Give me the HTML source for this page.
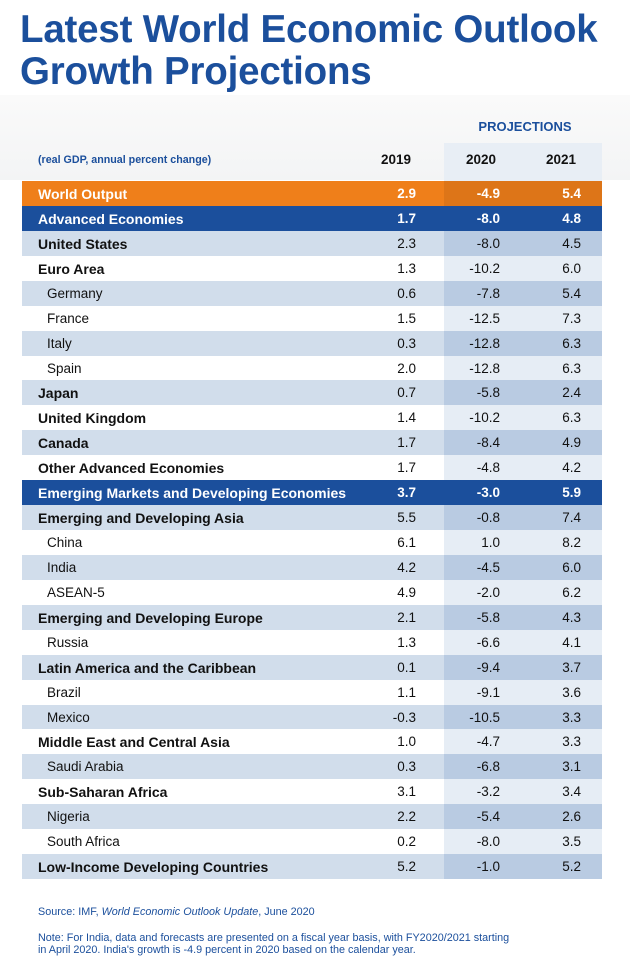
<!DOCTYPE html>
<html><head><meta charset="utf-8">
<style>
body{margin:0;width:630px;height:963px;background:#fff;font-family:"Liberation Sans",sans-serif;position:relative;overflow:hidden}
#title{position:absolute;left:20px;top:9px;margin:0;font-size:38.5px;line-height:42px;font-weight:bold;color:#1b4f9c;letter-spacing:-0.2px}
#bg{position:absolute;left:0;top:95px;width:630px;height:85px;background:linear-gradient(#fafafa,#f3f4f5)}
.proj-band{position:absolute;left:444px;top:143px;width:158px;height:38px;background:#e8eef5}
#proj{position:absolute;left:444px;top:119px;width:162px;text-align:center;font-size:13px;color:#1b4f9c;font-weight:bold}
.hdr{position:absolute;top:152px;font-size:13.5px;font-weight:bold;color:#111}
#sub{position:absolute;left:38px;top:154px;font-size:10.7px;font-weight:bold;color:#1b4f9c}
.row{position:absolute;left:22px;width:580px;height:25px;font-size:13.5px;color:#111}
.row span{position:absolute;top:5px}
.pb{position:absolute;left:422px;top:0;width:158px;height:25px}
.foot{position:absolute;left:38px;font-size:10.8px;color:#1b4f9c;line-height:11.5px}
</style></head><body>
<div id="bg"></div>
<h1 id="title">Latest World Economic Outlook<br>Growth Projections</h1>
<div class="proj-band"></div>
<div id="proj">PROJECTIONS</div>
<div id="sub">(real GDP, annual percent change)</div>
<div class="hdr" style="left:381px">2019</div>
<div class="hdr" style="left:466px">2020</div>
<div class="hdr" style="left:546px">2021</div>
<div id="table"></div>
<div class="foot" style="top:907px">Source: IMF, <i>World Economic Outlook Update</i>, June 2020</div>
<div class="foot" style="top:933px">Note: For India, data and forecasts are presented on a fiscal year basis, with FY2020/2021 starting<br>in April 2020. India's growth is -4.9 percent in 2020 based on the calendar year.</div>
<script>
const countries=["World Output","Advanced Economies","United States","Euro Area","Germany","France","Italy","Spain","Japan","United Kingdom","Canada","Other Advanced Economies","Emerging Markets and Developing Economies","Emerging and Developing Asia","China","India","ASEAN-5","Emerging and Developing Europe","Russia","Latin America and the Caribbean","Brazil","Mexico","Middle East and Central Asia","Saudi Arabia","Sub-Saharan Africa","Nigeria","South Africa","Low-Income Developing Countries"];
const rowTypes=["orange","dark","group","group","sub","sub","sub","sub","group","group","group","group","dark","group","sub","sub","sub","group","sub","group","sub","sub","group","sub","group","sub","sub","group"];
const values2019=[2.9,1.7,2.3,1.3,0.6,1.5,0.3,2.0,0.7,1.4,1.7,1.7,3.7,5.5,6.1,4.2,4.9,2.1,1.3,0.1,1.1,-0.3,1.0,0.3,3.1,2.2,0.2,5.2];
const values2020=[-4.9,-8.0,-8.0,-10.2,-7.8,-12.5,-12.8,-12.8,-5.8,-10.2,-8.4,-4.8,-3.0,-0.8,1.0,-4.5,-2.0,-5.8,-6.6,-9.4,-9.1,-10.5,-4.7,-6.8,-3.2,-5.4,-8.0,-1.0];
const values2021=[5.4,4.8,4.5,6.0,5.4,7.3,6.3,6.3,2.4,6.3,4.9,4.2,5.9,7.4,8.2,6.0,6.2,4.3,4.1,3.7,3.6,3.3,3.3,3.1,3.4,2.6,3.5,5.2];
const table=document.getElementById('table');
let shade=true;
countries.forEach((c,i)=>{
  const t=rowTypes[i];
  const r=document.createElement('div');
  
  
  r.className='row';
  r.style.top=(181+i*24.93)+'px';
  let bg,pbg,col='#111';
  if(t==='orange'){bg='#ef7f1a';pbg='#dd7518';col='#fff';shade=true;}
  else if(t==='dark'){bg='#1b4f9c';pbg='#1b4f9c';col='#fff';shade=true;}
  else{ if(shade){bg='#d1ddeb';pbg='#b9cbe2';}else{bg='#ffffff';pbg='#e6edf5';} shade=!shade;}
  r.style.background=bg;r.style.color=col;
  const pb=document.createElement('div');pb.className='pb';pb.style.background=pbg;
  
  
  r.appendChild(pb);
  const fmt=v=>{const s=Math.abs(v).toFixed(1);return v<0?'-'+s:s;};
  const cells=[[c,(t==='sub'?25:16)+'px',null],[fmt(values2019[i]),null,'186px'],[fmt(values2020[i]),null,'102px'],[fmt(values2021[i]),null,'21px']];
  cells.forEach((cl,j)=>{
    const s=document.createElement('span');
    s.textContent=cl[0];
    
    
    if(cl[1])s.style.left=cl[1];else s.style.right=cl[2];
    const bold=(t==='orange'||t==='dark'||(t==='group'&&j===0));
    s.style.fontWeight=bold?'bold':'normal';
    if(bold&&j===0)s.style.fontSize='14px';
    r.appendChild(s);
  });
  table.appendChild(r);
});
</script>
</body></html>
